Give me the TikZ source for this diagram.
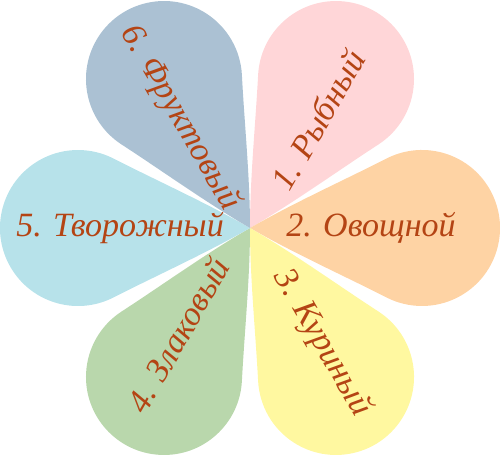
\documentclass[tikz,border=0pt]{standalone}
\usepackage{fontspec}
\setmainfont{Liberation Serif}
\usepackage{tikz}

\definecolor{fishpink}{RGB}{255,214,216}
\definecolor{vegorange}{RGB}{254,211,164}
\definecolor{chickyellow}{RGB}{255,248,160}
\definecolor{graingreen}{RGB}{185,215,172}
\definecolor{curdblue}{RGB}{183,226,234}
\definecolor{fruitgrey}{RGB}{171,193,211}
\definecolor{inkbrown}{RGB}{180,68,20}

\begin{document}
\begin{tikzpicture}[
x=1pt, y=1pt,
petal/.style={draw=none},
petaltext/.style={text=inkbrown, inner sep=0pt, font=\itshape\fontsize{34}{40}\selectfont}]

\useasboundingbox (0,0) rectangle (500,455);

% petals, tip in the middle
\fill[petal, fishpink, shift={(250,227)}, rotate=60] (0,0) .. controls (43.3,25) and (92,46.8) .. (136.6,69.5) arc[start angle=117, end angle=-117, radius=78] .. controls (92,-46.8) and (43.3,-25) .. cycle;
\fill[petal, vegorange, shift={(250,227)}, rotate=0] (0,0) .. controls (43.3,25) and (92,46.8) .. (136.6,69.5) arc[start angle=117, end angle=-117, radius=78] .. controls (92,-46.8) and (43.3,-25) .. cycle;
\fill[petal, chickyellow, shift={(250,227)}, rotate=-60] (0,0) .. controls (43.3,25) and (92,46.8) .. (136.6,69.5) arc[start angle=117, end angle=-117, radius=78] .. controls (92,-46.8) and (43.3,-25) .. cycle;
\fill[petal, graingreen, shift={(250,227)}, rotate=-120] (0,0) .. controls (43.3,25) and (92,46.8) .. (136.6,69.5) arc[start angle=117, end angle=-117, radius=78] .. controls (92,-46.8) and (43.3,-25) .. cycle;
\fill[petal, curdblue, shift={(250,227)}, rotate=180] (0,0) .. controls (43.3,25) and (92,46.8) .. (136.6,69.5) arc[start angle=117, end angle=-117, radius=78] .. controls (92,-46.8) and (43.3,-25) .. cycle;
\fill[petal, fruitgrey, shift={(250,227)}, rotate=120] (0,0) .. controls (43.3,25) and (92,46.8) .. (136.6,69.5) arc[start angle=117, end angle=-117, radius=78] .. controls (92,-46.8) and (43.3,-25) .. cycle;

% names
\node[petaltext, rotate=60] (fish) at (318,335) {1. Рыбный};
\node[petaltext] (veg) at (371,227) {2. Овощной};
\node[petaltext, rotate=-60] (chick) at (322,112) {3. Куриный};
\node[petaltext, rotate=60] (grain) at (178,120) {4. Злаковый};
\node[petaltext] (curd) at (120,227) {5. Творожный};
\node[petaltext, rotate=-60] (fruit) at (180,337) {6. Фруктовый};
\end{tikzpicture}
\end{document}
